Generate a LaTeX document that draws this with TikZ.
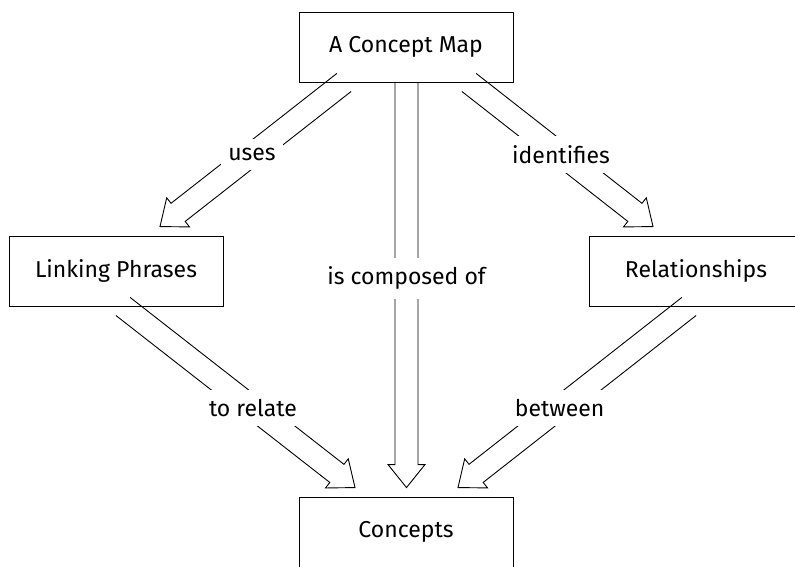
\documentclass[tikz,border=0pt]{standalone}
\usepackage{fontspec}
\setmainfont{Fira Sans}
\usetikzlibrary{calc}
\tikzset{
  % boxes holding the concepts
  concept/.style={draw, rectangle, line width=0.9pt, minimum width=214pt, minimum height=70pt,
    inner sep=0pt, font=\fontsize{23}{28}\selectfont},
  linklabel/.style={fill=white, inner xsep=7pt, inner ysep=9pt, font=\fontsize{23}{28}\selectfont},
  fat/.style={line width=0.9pt, line join=miter},
}
% hollow broad arrow from #2 to #3, labelled #4 at position #1
\newcommand{\fatarrow}[5][0.5]{%
  \coordinate (fahead) at ($(#3)!23pt!(#2)$);
  \draw[fat] ($(#2)!11.5pt!90:(#3)$) -- ($(fahead)!11.5pt!90:(#3)$) -- ($(fahead)!18.5pt!90:(#3)$)
    -- (#3) -- ($(fahead)!18.5pt!-90:(#3)$) -- ($(fahead)!11.5pt!-90:(#3)$) -- ($(#2)!11.5pt!-90:(#3)$);
  \path (#2) -- (#3) node[linklabel, pos=#1] (#5) {#4};}

\begin{document}
\begin{tikzpicture}[x=1pt, y=-1pt]
  \useasboundingbox (0,0) rectangle (795,567);

  \node[concept] (map) at (406,47) {A Concept Map};
  \node[concept] (link) at (116,271) {Linking Phrases};
  \node[concept] (rel) at (696,271) {Relationships};
  \node[concept] (concepts) at (406,532) {Concepts};

  % tails on the box borders, tips just short of the target boxes
  \coordinate (usesfrom) at ($(map.south)+(-62,0)$);
  \coordinate (usesto) at ($(link.north)+(44,-9)$);
  \coordinate (idfrom) at ($(map.south)+(63,0)$);
  \coordinate (idto) at ($(rel.north)+(-43,-9)$);
  \coordinate (compfrom) at ($(map.south)+(0.5,0)$);
  \coordinate (compto) at ($(concepts.north)+(0.5,-9)$);
  \coordinate (relatefrom) at ($(link.south)+(7,0)$);
  \coordinate (relateto) at ($(concepts.north)+(-51,-9)$);
  \coordinate (betwfrom) at ($(rel.south)+(-7,0)$);
  \coordinate (betwto) at ($(concepts.north)+(52,-9)$);

  \fatarrow{usesfrom}{usesto}{uses}{uses}
  \fatarrow{idfrom}{idto}{identifies}{identifies}
  \fatarrow[0.483]{compfrom}{compto}{is composed of}{composed}
  \fatarrow[0.56]{relatefrom}{relateto}{to relate}{relate}
  \fatarrow[0.56]{betwfrom}{betwto}{between}{between}

\end{tikzpicture}
\end{document}
